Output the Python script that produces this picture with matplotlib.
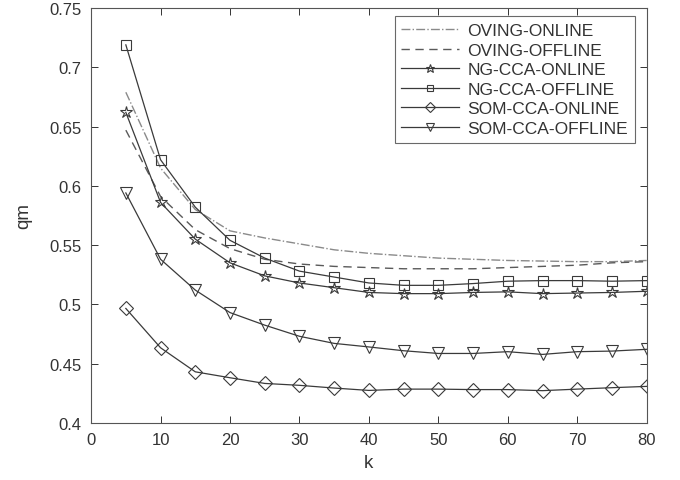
import matplotlib
matplotlib.use('Agg')
import matplotlib.pyplot as plt

plt.rcParams['font.family'] = ['Liberation Sans', 'DejaVu Sans']

K = [5, 10, 15, 20, 25, 30, 35, 40, 45, 50, 55, 60, 65, 70, 75, 80]

oving_online = [0.679, 0.615, 0.580, 0.562, 0.556, 0.551, 0.546, 0.543,
                0.541, 0.539, 0.538, 0.537, 0.5365, 0.536, 0.536, 0.537]
oving_offline = [0.647, 0.591, 0.563, 0.547, 0.538, 0.534, 0.532, 0.531,
                 0.530, 0.530, 0.530, 0.531, 0.532, 0.533, 0.535, 0.536]
ng_online = [0.662, 0.586, 0.555, 0.535, 0.524, 0.518, 0.514, 0.510,
             0.509, 0.509, 0.510, 0.5105, 0.509, 0.5095, 0.510, 0.511]
ng_offline = [0.719, 0.622, 0.582, 0.554, 0.539, 0.528, 0.523, 0.518,
              0.516, 0.516, 0.5175, 0.5195, 0.520, 0.520, 0.5195, 0.520]
som_online = [0.4965, 0.4633, 0.443, 0.438, 0.4332, 0.4316, 0.4293, 0.4273,
              0.4284, 0.4284, 0.428, 0.428, 0.4271, 0.4284, 0.4296, 0.4307]
som_offline = [0.594, 0.538, 0.512, 0.493, 0.4824, 0.473, 0.467, 0.464,
               0.4608, 0.4585, 0.4585, 0.460, 0.4577, 0.460, 0.4605, 0.462]

LINE = '#3a3a3a'

fig = plt.figure(figsize=(6.8, 4.81), dpi=100)
ax = fig.add_axes([0.134, 0.119, 0.817, 0.862])

ax.plot(K, oving_online, color='#8a8a8a', lw=1.0, ls='-.', label='OVING-ONLINE')
ax.plot(K, oving_offline, color='#5a5a5a', lw=1.0, ls=(0, (6, 4)),
        label='OVING-OFFLINE')
ax.plot(K, ng_online, color=LINE, lw=0.9, marker='*', ms=9,
        mfc='none', mec=LINE, mew=0.8, label='NG-CCA-ONLINE')
ax.plot(K, ng_offline, color=LINE, lw=0.9, marker='s', ms=7,
        mfc='none', mec=LINE, mew=0.8, label='NG-CCA-OFFLINE')
ax.plot(K, som_online, color=LINE, lw=0.9, marker='D', ms=7,
        mfc='none', mec=LINE, mew=0.8, label='SOM-CCA-ONLINE')
ax.plot(K, som_offline, color=LINE, lw=0.9, marker='v', ms=9,
        mfc='none', mec=LINE, mew=0.8, label='SOM-CCA-OFFLINE')

ax.set_xlim(0, 80)
ax.set_ylim(0.4, 0.75)
ax.set_xticks(range(0, 81, 10))
ax.set_yticks([0.4, 0.45, 0.5, 0.55, 0.6, 0.65, 0.7, 0.75])
ax.set_yticklabels(['0.4', '0.45', '0.5', '0.55', '0.6', '0.65', '0.7', '0.75'])
ax.tick_params(direction='in', top=True, right=True, length=5,
               labelsize=12, colors='#333333', width=0.7, pad=7)
for s in ax.spines.values():
    s.set_color('#555555')
    s.set_linewidth(0.8)

ax.set_xlabel('k', fontsize=13.5, color='#333333', labelpad=5)
ax.set_ylabel('qm', fontsize=13.5, color='#333333', labelpad=12)

leg = ax.legend(loc='upper right', bbox_to_anchor=(0.979, 0.981),
                fontsize=12.5, frameon=True, fancybox=False,
                edgecolor='#444444', handlelength=3.3, handletextpad=0.5,
                borderpad=0.4, labelspacing=0.25, borderaxespad=0,
                markerscale=0.7)
leg.get_frame().set_linewidth(0.8)
for t in leg.get_texts():
    t.set_color('#333333')

fig.savefig('out.png', dpi=100, facecolor='white')
